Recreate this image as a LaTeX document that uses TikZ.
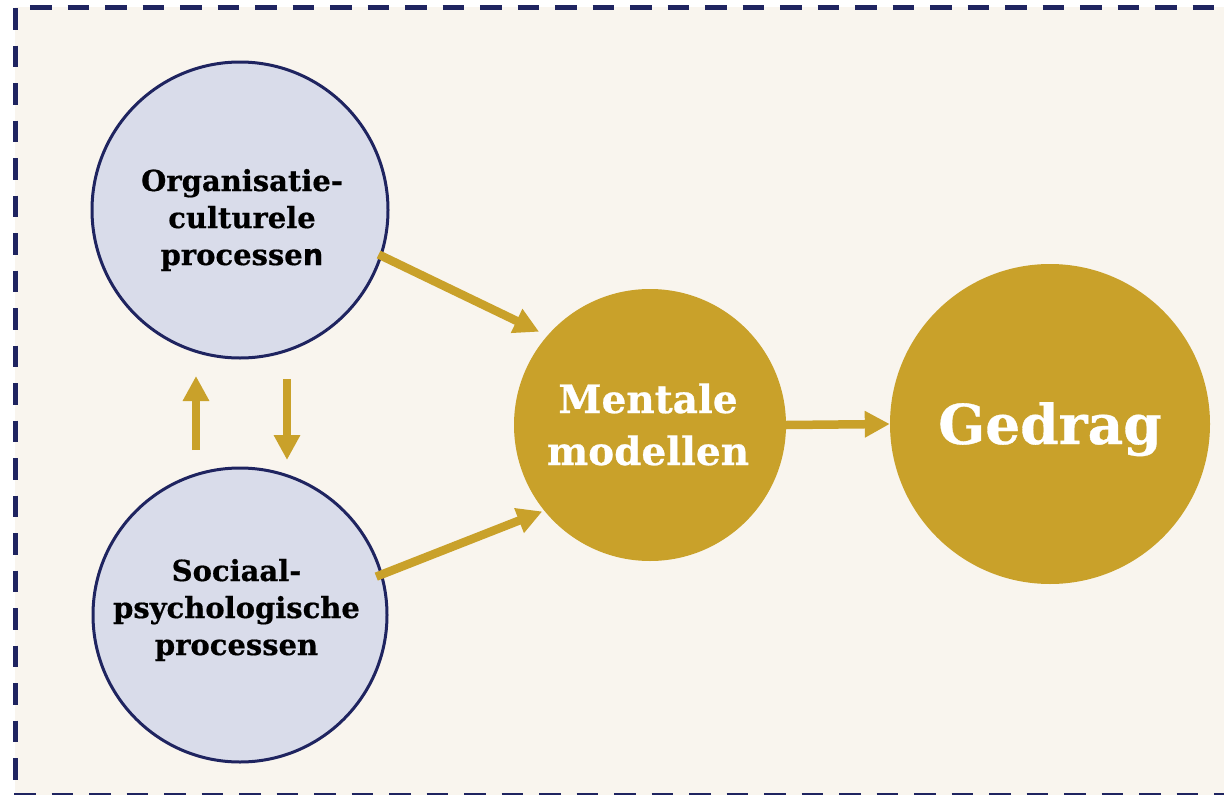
\documentclass[tikz,border=0pt]{standalone}
\usepackage{fontspec}
\setmainfont{DejaVu Serif}
\newfontfamily\heavyserif{DejaVu Serif Bold}[FakeBold=0.6]
\newfontfamily\sansletter{DejaVu Sans Bold}[FakeBold=0.6]
\usetikzlibrary{arrows.meta}

\definecolor{paper}{HTML}{F9F5EE}
\definecolor{navy}{HTML}{1F2460}
\definecolor{lavender}{HTML}{D9DCEA}
\definecolor{ochre}{HTML}{C9A12A}

\tikzset{
  frame/.style={navy, line width=5.5pt, dash pattern=on 21.5pt off 16pt},
  process/.style={circle, draw=navy, line width=3pt, fill=lavender, inner sep=0pt},
  outcome/.style={circle, fill=ochre, inner sep=0pt},
  proctext/.style={anchor=base, align=center, text=black,
    font=\heavyserif\fontsize{29}{37}\selectfont},
  flow/.style={ochre, line width=8.5pt,
    -{Triangle[length=25pt, width=25pt]}},
}

\begin{document}
\begin{tikzpicture}[x=1pt, y=-1pt]
  \useasboundingbox (0,0) rectangle (1224,795);

  % panel and its dashed frame
  \fill[paper] (15,7) rectangle (1224,795);
  \draw[frame] (30,7.5) -- (1224,7.5);
  \draw[frame] (15.5,8) -- (15.5,795);
  \draw[frame] (14,796) -- (1224,796);

  % circles
  \node[process, minimum size=296pt] (org) at (240,210) {};
  \node[process, minimum size=294pt] (soc) at (240,615) {};
  \node[outcome, minimum size=272pt] (ment) at (650,425) {};
  \node[outcome, minimum size=320pt] (ged) at (1050,424) {};

  % labels (anchored at the baseline of their last line)
  \node[proctext] (orgtext) at (242,265)
    {Organisatie-\\culturele\\processe{\sansletter n}};
  \node[proctext] (soctext) at (236.5,655)
    {Sociaal-\\psychologische\\processen};
  \node[anchor=base, align=center, text=white,
    font=\heavyserif\fontsize{39}{52}\selectfont] (menttext) at (648,465)
    {Mentale\\modellen};
  \node[anchor=base, text=white,
    font=\heavyserif\fontsize{55}{60}\selectfont] (gedtext) at (1050,444)
    {Gedrag};

  % influences
  \draw[flow, shorten <=-4pt, shorten >=9pt] (org.-18) -- (ment.139);
  \draw[flow, shorten <=-7pt, shorten >=2pt] (soc.16) -- (ment.-141);
  \draw[flow] (ment.0) -- (ged.180);

  % mutual influence between the two process circles
  \coordinate (upfoot) at (196,450);
  \coordinate (uptip) at (196,376);
  \coordinate (downfoot) at (287,379);
  \coordinate (downtip) at (287,460);
  \draw[flow] (upfoot) -- (uptip);
  \draw[flow] (downfoot) -- (downtip);
\end{tikzpicture}
\end{document}
